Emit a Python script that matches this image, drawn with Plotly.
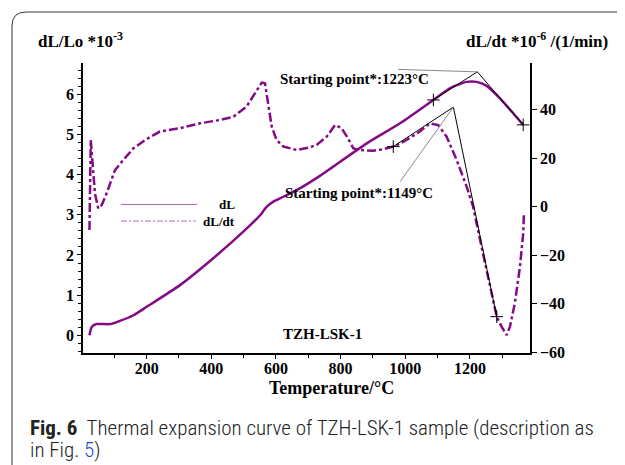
import plotly.graph_objects as go

# ---- data ----
T_dL = [23, 30, 45, 87, 117, 159, 200, 303, 406, 504, 551, 571, 592, 623, 674, 736,
        777, 881, 984, 1087, 1138, 1190, 1221, 1252, 1293, 1334, 1365]
dL = [0, 0.21, 0.28, 0.28, 0.36, 0.5, 0.71, 1.25, 1.92, 2.62, 2.99, 3.2, 3.33, 3.45,
      3.66, 3.97, 4.20, 4.78, 5.28, 5.86, 6.15, 6.31, 6.31, 6.21, 5.90, 5.53, 5.24]

T_rate = [23, 27, 31, 40, 50, 61, 76, 102, 128, 159, 200, 241, 303, 365, 427, 468, 509,
          540, 556, 566, 576, 587, 602, 623, 664, 705, 726, 757, 783, 803, 823, 839, 855,
          901, 932, 968, 1004, 1045, 1076, 1102, 1128, 1159, 1190, 1210, 1236, 1262,
          1283, 1298, 1314, 1324, 1339, 1355, 1365, 1367]
rate = [-9.6, 27.5, 20.6, 5.5, -0.7, 0.7, 5.5, 15.1, 19.3, 24.1, 27.9, 31.0, 32.4, 34.4,
        35.8, 37.1, 41.3, 47.5, 51.2, 50.9, 42.7, 33.0, 27.5, 24.8, 23.4, 24.5, 25.5,
        28.9, 33.7, 32.4, 28.2, 24.1, 23.4, 23.1, 23.7, 25.0, 27.5, 31.0, 34.4, 33.7,
        28.9, 19.3, 8.3, 0.0, -16.5, -33.0, -45.4, -49.5, -53.0, -49.5, -39.9, -24.8,
        -11.0, -3.4]

# tangent construction, dL (left axis)
tan1_T = [1087, 1223, 1365]
tan1_v = [5.86, 6.56, 5.24]
lead1_T = [978, 1223]
lead1_v = [6.62, 6.56]
# tangent construction, dL/dt (right axis)
tan2_T = [963, 1149, 1283]
tan2_v = [24.8, 41.1, -45.4]
lead2_T = [984, 1149]
lead2_v = [10.3, 41.1]

x_ticks = [200, 400, 600, 800, 1000, 1200]
y_ticks = [0, 1, 2, 3, 4, 5, 6]
y2_ticks = [-60, -40, -20, 0, 20, 40]

PURPLE = "#850a85"
SERIF = "Liberation Serif, Times New Roman, serif"

# page has an 8px body margin: the figure is sized to fit the window
OFF = 8
W, H = 625 - OFF, 465 - OFF
L, R, T, B = 83, 530, 63, 353   # plot area in page pixels


def px(x):
    return (x - L) / (R - L)


def py(y):
    return (B - y) / (B - T)


fig = go.Figure()
fig.add_trace(go.Scatter(x=T_dL, y=dL, mode="lines", line=dict(color=PURPLE, width=2.5, shape="spline", smoothing=0.6),
                         showlegend=False, name="dL"))
fig.add_trace(go.Scatter(x=T_rate, y=rate, mode="lines", yaxis="y2",
                         line=dict(color=PURPLE, width=2.5, dash="dashdot"), showlegend=False, name="dL/dt"))
# tangents and leaders
fig.add_trace(go.Scatter(x=tan1_T, y=tan1_v, mode="lines", line=dict(color="black", width=1), showlegend=False))
fig.add_trace(go.Scatter(x=lead1_T, y=lead1_v, mode="lines", line=dict(color="#8a8a8a", width=1), showlegend=False))
fig.add_trace(go.Scatter(x=[tan1_T[0], tan1_T[2]], y=[tan1_v[0], tan1_v[2]], mode="markers",
                         marker=dict(symbol="cross-thin", size=9, line=dict(color="black", width=1)), showlegend=False))
fig.add_trace(go.Scatter(x=tan2_T, y=tan2_v, mode="lines", yaxis="y2", line=dict(color="black", width=1), showlegend=False))
fig.add_trace(go.Scatter(x=lead2_T, y=lead2_v, mode="lines", yaxis="y2", line=dict(color="#8a8a8a", width=1), showlegend=False))
fig.add_trace(go.Scatter(x=[tan2_T[0], tan2_T[2]], y=[tan2_v[0], tan2_v[2]], mode="markers", yaxis="y2",
                         marker=dict(symbol="cross-thin", size=9, line=dict(color="black", width=1)), showlegend=False))

tickfont = dict(family=SERIF, size=16, color="black", weight="bold")

fig.update_layout(
    width=W, height=H, autosize=False,
    margin=dict(l=L - OFF, r=W - (R - OFF), t=T - OFF, b=H - (B - OFF), pad=0),
    paper_bgcolor="white", plot_bgcolor="white",
    xaxis=dict(range=[3, 1386], tickvals=x_ticks, ticks="outside", ticklen=4, tickcolor="black",
               showline=True, linecolor="black", linewidth=1.5, showgrid=False, zeroline=False,
               tickfont=tickfont, ticklabelstandoff=-4,
               minor=dict(dtick=100, tick0=0, ticks="outside", ticklen=3, tickcolor="black")),
    yaxis=dict(range=[-0.44, 6.78], tickvals=y_ticks, ticks="outside", ticklen=4, tickcolor="black",
               showline=True, linecolor="black", linewidth=1.5, showgrid=False, zeroline=False,
               tickfont=tickfont,
               minor=dict(dtick=0.2, tick0=0, ticks="outside", ticklen=3, tickcolor="black")),
    yaxis2=dict(range=[-60.4, 59.3], tickvals=y2_ticks, overlaying="y", side="right", ticks="outside",
                ticklen=5, tickcolor="black", showline=True, linecolor="black", linewidth=1.5,
                showgrid=False, zeroline=False, tickfont=tickfont),
)

ann = []


def text(x, y, s, size, xanchor="left", family=SERIF, weight="bold", color="black"):
    ann.append(dict(x=px(x), y=py(y), xref="paper", yref="paper", text=s, showarrow=False,
                    xanchor=xanchor, yanchor="middle",
                    font=dict(family=family, size=size, color=color, weight=weight)))


text(36, 40, "dL/Lo *10<sup>-3</sup>", 17)
text(610, 40, "dL/dt *10<sup>-6</sup> /(1/min)", 17, xanchor="right")
text(278, 79, "Starting point*:1223°C", 15)
text(283, 193, "Starting point*:1149°C", 15)
text(322, 334, "TZH-LSK-1", 15, xanchor="center")
text(237, 204, "dL", 13, xanchor="right")
text(237, 221, "dL/dt", 13, xanchor="right")
text(331, 388, "Temperature/°C", 18, xanchor="center")
SANS = "Liberation Sans Narrow, Roboto Condensed, Noto Sans, sans-serif"
text(28, 428, "<b>Fig. 6</b>  Thermal expansion curve of TZH-LSK-1 sample (description as", 21,
     family=SANS, weight=300, color="#222")
text(28, 450, "in Fig. <span style='color:#1a4fd6'>5</span>)", 21, family=SANS, weight=300, color="#222")
fig.update_layout(annotations=ann)

shapes = [
    # card border
    dict(type="path", xref="paper", yref="paper",
         path=f"M {px(12)},{py(480)} L {px(12)},{py(26)} Q {px(12)},{py(12)} {px(26)},{py(12)} L {px(640)},{py(12)}",
         line=dict(color="#333", width=1)),
    # legend samples
    dict(type="line", xref="paper", yref="paper", x0=px(121), x1=px(197), y0=py(204.5), y1=py(204.5),
         line=dict(color="#b469b4", width=1)),
    dict(type="line", xref="paper", yref="paper", x0=px(121), x1=px(196), y0=py(221), y1=py(221),
         line=dict(color="#b469b4", width=1, dash="6px,2px,2px,2px")),
]
fig.update_layout(shapes=shapes)

fig.write_html("out.html")
